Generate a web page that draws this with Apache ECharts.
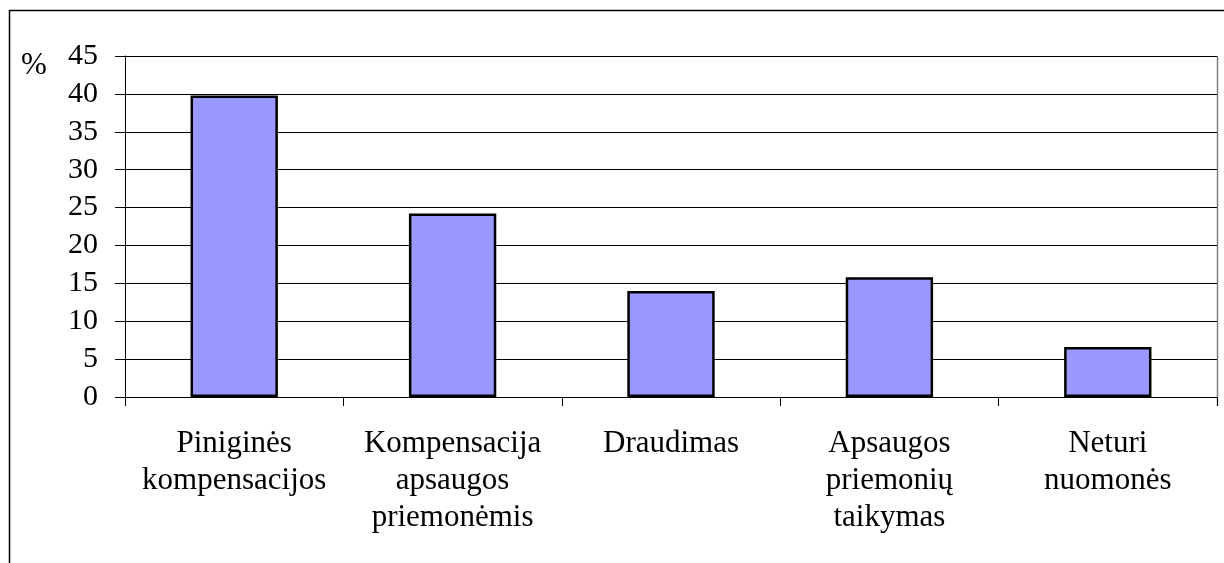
<!DOCTYPE html>
<html>
<head>
<meta charset="utf-8">
<script src="https://cdn.jsdelivr.net/npm/echarts@6/dist/echarts.min.js"></script>
<style>
html,body{margin:0;padding:0;background:#fff;}
#chart{width:1224px;height:563px;}
</style>
</head>
<body>
<div id="chart"></div>
<script>
const categories = ['Piniginės\nkompensacijos', 'Kompensacija\napsaugos\npriemonėmis', 'Draudimas', 'Apsaugos\npriemonių\ntaikymas', 'Neturi\nnuomonės'];
const values = [39.8, 24.2, 14.0, 15.8, 6.6];
const yMin = 0, yMax = 45, yStep = 5;

const font = 'Liberation Serif';
const chart = echarts.init(document.getElementById('chart'));
chart.setOption({
  animation: false,
  backgroundColor: '#fff',
  grid: { left: 125, right: 7, top: 56, bottom: 166, containLabel: false },
  xAxis: {
    type: 'category',
    data: categories,
    axisLine: { show: true, lineStyle: { color: '#000', width: 1 } },
    axisTick: { show: true, interval: 0, length: 9, lineStyle: { color: '#000' } },
    axisLabel: { interval: 0, color: '#000', fontFamily: font, fontSize: 31, lineHeight: 37, margin: 28 }
  },
  yAxis: {
    type: 'value', min: yMin, max: yMax, interval: yStep,
    axisLine: { show: true, lineStyle: { color: '#000', width: 1 } },
    axisTick: { show: true, length: 10, lineStyle: { color: '#000' } },
    axisLabel: { color: '#000', fontFamily: font, fontSize: 30, margin: 27 },
    splitLine: { show: true, lineStyle: { color: '#000', width: 1 } }
  },
  series: [{
    type: 'bar',
    data: values,
    barWidth: '40%',
    itemStyle: { color: '#9999FF', borderColor: '#000', borderWidth: 2.5 }
  }],
  graphic: [
    { type: 'rect', shape: { x: 9.5, y: 10.5, width: 1400, height: 800 }, style: { fill: 'none', stroke: '#000', lineWidth: 1.5 }, silent: true },
    { type: 'line', shape: { x1: 1217.5, y1: 56, x2: 1217.5, y2: 406 }, style: { stroke: '#808080', lineWidth: 1.5 }, silent: true },
    { type: 'text', left: 21, top: 50, style: { text: '%', font: '31px "Liberation Serif"', fill: '#000' } }
  ]
});
</script>
</body>
</html>
